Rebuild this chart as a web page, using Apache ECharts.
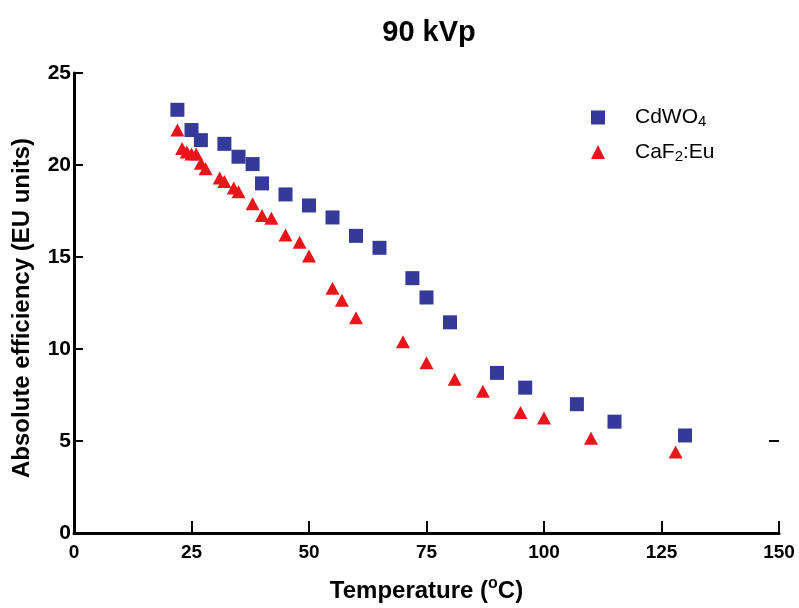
<!DOCTYPE html>
<html>
<head>
<meta charset="utf-8">
<script src="https://cdn.jsdelivr.net/npm/echarts@6/dist/echarts.min.js"></script>
<style>html,body{margin:0;padding:0;background:#fff;overflow:hidden;}#c{width:799px;height:608px;}</style>
</head>
<body>
<div id="c"></div>
<script>
// CdWO4 (blue squares)
const cdwo4Temp = [22, 25, 27, 32, 35, 38, 40, 45, 50, 55, 60, 65, 72, 75, 80, 90, 96, 107, 115, 130];
const cdwo4Eff  = [23.0, 21.9, 21.35, 21.15, 20.45, 20.05, 19.0, 18.4, 17.8, 17.15, 16.15, 15.5, 13.85, 12.8, 11.45, 8.7, 7.9, 7.0, 6.05, 5.3];
// CaF2:Eu (red triangles)
const caf2Temp = [22, 23, 24, 25, 26, 27, 28, 31, 32, 34, 35, 38, 40, 42, 45, 48, 50, 55, 57, 60, 70, 75, 81, 87, 95, 100, 110, 128];
const caf2Eff  = [21.9, 20.9, 20.7, 20.6, 20.6, 20.1, 19.8, 19.3, 19.1, 18.75, 18.55, 17.9, 17.25, 17.1, 16.2, 15.8, 15.05, 13.3, 12.65, 11.7, 10.4, 9.25, 8.35, 7.7, 6.55, 6.25, 5.15, 4.4];
const xTicks = [0, 25, 50, 75, 100, 125, 150];
const yTicks = [0, 5, 10, 15, 20, 25];
const rightTicks = [5];

const FR = "'Liberation Sans', Arial, sans-serif";

const chart = echarts.init(document.getElementById('c'), null, {renderer: 'canvas', width: 799, height: 608});
chart.setOption({
  backgroundColor: '#ffffff',
  animation: false,
  title: {
    text: '90 kVp',
    left: 424, top: 13, textAlign: 'center',
    textStyle: {fontFamily: FR, fontWeight: 'bold', fontSize: 29, color: '#000'}
  },
  legend: {
    orient: 'vertical',
    left: 586, top: 102,
    itemWidth: 14, itemHeight: 14,
    itemGap: 12,
    data: [
      {name: 'CdWO4', icon: 'rect'},
      {name: 'CaF2:Eu', icon: 'triangle'}
    ],
    formatter: function (n) {
      if (n === 'CdWO4') return '{a|CdWO}{s|4}';
      return '{a|CaF}{s|2}{a|:Eu}';
    },
    textStyle: {
      padding: [0, 0, 0, 25],
      rich: {
        a: {fontFamily: FR, fontSize: 21, color: '#000', lineHeight: 24},
        s: {fontFamily: FR, fontSize: 15, color: '#000', lineHeight: 15, verticalAlign: 'bottom'}
      }
    }
  },
  grid: {left: 74, right: 20, top: 73, bottom: 73, containLabel: false},
  xAxis: {
    type: 'value', min: 0, max: 150, interval: 25,
    name: '{t|Temperature (}{o|o}{t|C)}',
    nameLocation: 'middle', nameGap: 43,
    nameTextStyle: {
      rich: {
        t: {fontFamily: FR, fontWeight: 'bold', fontSize: 24, color: '#000', lineHeight: 30},
        o: {fontFamily: FR, fontWeight: 'bold', fontSize: 16, color: '#000', lineHeight: 16, verticalAlign: 'top'}
      }
    },
    axisLine: {show: true, lineStyle: {color: '#000', width: 3}},
    axisTick: {show: true, inside: true, length: 12, lineStyle: {color: '#000', width: 2}},
    axisLabel: {fontFamily: FR, fontWeight: 'bold', fontSize: 19, color: '#000', margin: 10,
      formatter: v => xTicks.includes(v) ? String(v) : ''},
    splitLine: {show: false}
  },
  yAxis: [{
    type: 'value', min: 0, max: 25, interval: 5,
    name: 'Absolute efficiency (EU units)',
    nameLocation: 'middle', nameGap: 40, nameRotate: 90,
    nameTextStyle: {fontFamily: FR, fontWeight: 'bold', fontSize: 24, color: '#000', padding: [0, 10, 0, 0]},
    axisLine: {show: true, lineStyle: {color: '#000', width: 3}},
    axisTick: {show: true, inside: true, length: 9, lineStyle: {color: '#000', width: 2}},
    axisLabel: {fontFamily: FR, fontWeight: 'bold', fontSize: 21, color: '#000', margin: 3,
      formatter: v => yTicks.includes(v) ? String(v) : ''},
    splitLine: {show: false}
  }, {
    type: 'value', min: 0, max: 25, interval: 5, position: 'right',
    axisLine: {show: false},
    axisTick: {show: true, inside: true, length: 10, customValues: rightTicks, lineStyle: {color: '#000', width: 2}},
    axisLabel: {show: false},
    splitLine: {show: false}
  }],
  series: [
    {
      name: 'CdWO4', type: 'scatter', symbol: 'rect', symbolSize: 14,
      itemStyle: {color: '#34399a', opacity: 1},
      data: cdwo4Temp.map((t, i) => [t, cdwo4Eff[i]])
    },
    {
      name: 'CaF2:Eu', type: 'scatter', symbol: 'triangle', symbolSize: [14, 13],
      itemStyle: {color: '#e8161a', opacity: 1},
      data: caf2Temp.map((t, i) => [t, caf2Eff[i]])
    }
  ]
});
</script>
</body>
</html>
